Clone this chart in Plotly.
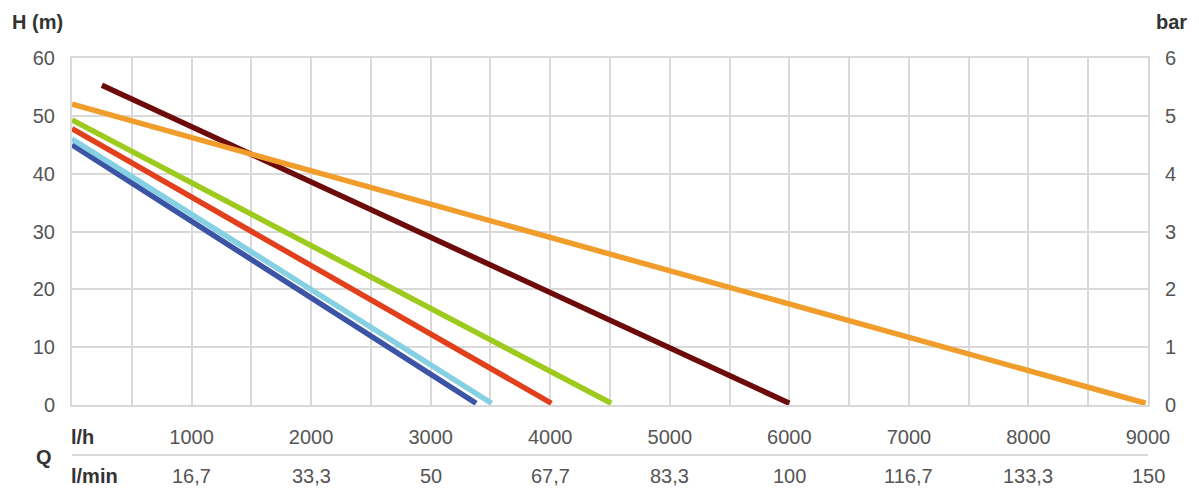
import plotly.graph_objects as go

# pump curves: flow Q (l/h) vs head H (m)
curve_names = ["blue", "light blue", "red", "green", "dark red", "orange"]
curve_colors = ["#3b54a5", "#85d0e3", "#e2401d", "#9dcb1d", "#6d0a0a", "#f19d2c"]
q_start = [0, 0, 0, 0, 250, 0]
h_start = [45.0, 46.0, 47.8, 49.3, 55.3, 52.0]
q_end = [3380, 3510, 4010, 4510, 6000, 8980]
h_end = [0.3, 0.3, 0.3, 0.3, 0.3, 0.3]

lh_ticks = [1000, 2000, 3000, 4000, 5000, 6000, 7000, 8000, 9000]
lmin_labels = ["16,7", "33,3", "50", "67,7", "83,3", "100", "116,7", "133,3", "150"]
h_ticks = [0, 10, 20, 30, 40, 50, 60]
bar_ticks = [0, 1, 2, 3, 4, 5, 6]

grid_col = "#d9d9d9"
txt_col = "#555555"
lbl_col = "#333333"
fnt = "Liberation Sans, Arial, sans-serif"

fig = go.Figure()

for i in range(len(curve_names)):
    fig.add_trace(go.Scatter(
        x=[q_start[i], q_end[i]],
        y=[h_start[i], h_end[i]],
        mode="lines",
        name=curve_names[i],
        line=dict(color=curve_colors[i], width=5.5),
        showlegend=False
    ))

# invisible trace for the bar axis
fig.add_trace(go.Scatter(x=[0], y=[0], yaxis="y2", mode="markers",
                         marker=dict(opacity=0), showlegend=False, hoverinfo="skip"))

# page body has an 8px margin, so the figure is a bit smaller than the window
fig.update_layout(
    width=1183, height=481,
    margin=dict(l=64, r=43, t=50, b=84),
    paper_bgcolor="white", plot_bgcolor="white",
    font=dict(family=fnt, size=20, color=txt_col),
    xaxis=dict(
        range=[0, 9000], tickvals=lh_ticks, automargin=False,
        showgrid=True, gridcolor=grid_col, gridwidth=2,
        minor=dict(dtick=500, showgrid=True, gridcolor=grid_col, gridwidth=2),
        showline=True, linecolor=grid_col, linewidth=2, mirror=True,
        ticks="", zeroline=False, ticklabelstandoff=13,
    ),
    yaxis=dict(
        range=[0, 60], tickvals=h_ticks, automargin=False,
        showgrid=True, gridcolor=grid_col, gridwidth=2,
        showline=True, linecolor=grid_col, linewidth=2, mirror=True,
        ticks="", zeroline=False, ticklabelstandoff=11,
    ),
    yaxis2=dict(
        range=[0, 6], tickvals=bar_ticks, overlaying="y", side="right",
        automargin=False, showgrid=False, zeroline=False, ticks="",
        ticklabelstandoff=16,
    ),
)

# l/min row under the l/h tick labels
for q, lab in zip(lh_ticks, lmin_labels):
    fig.add_annotation(x=q, y=0, xref="x", yref="y", yshift=-71,
                       text=lab, showarrow=False, yanchor="middle",
                       font=dict(size=20, color=txt_col))

# separator between the two flow rows
fig.add_shape(type="line", xref="paper", yref="paper", x0=0, x1=1,
              y0=-50 / 347, y1=-50 / 347, line=dict(color=grid_col, width=2))

labels = [
    ("H (m)", 10, 22, "left"),
    ("bar", 1189, 22, "right"),
    ("l/h", 69, 437, "left"),
    ("Q", 34, 457, "left"),
    ("l/min", 69, 476, "left"),
]
for txt, px, py, anc in labels:
    fig.add_annotation(
        x=(px - 72) / (1148 - 72), y=1 - (py - 58) / 347,
        xref="paper", yref="paper", text="<b>" + txt + "</b>", showarrow=False,
        xanchor=anc, yanchor="middle", font=dict(size=20, color=lbl_col),
    )

fig.write_html("out.html")
